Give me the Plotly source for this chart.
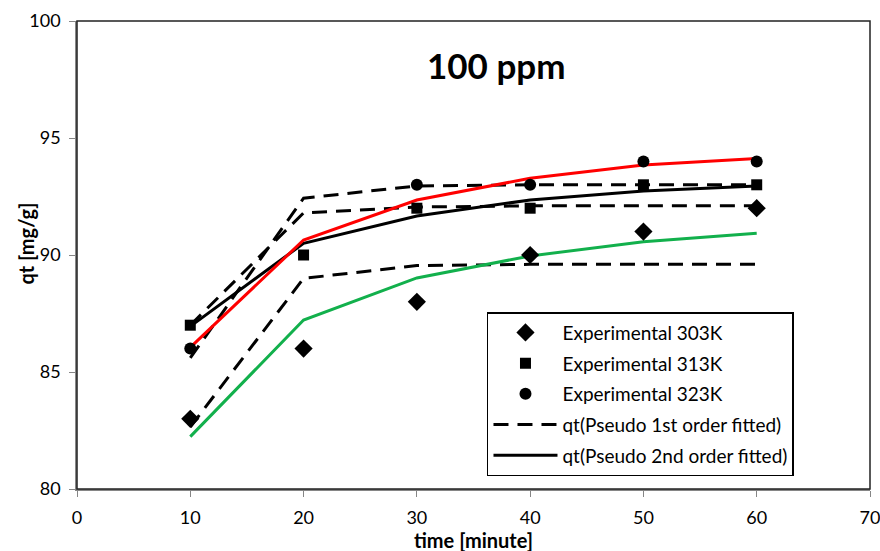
import plotly.graph_objects as go

# Contact time (minutes)
time_min = [10, 20, 30, 40, 50, 60]

# Experimental uptake qt [mg/g]
exp_303 = [83, 86, 88, 90, 91, 92]
exp_313 = [87, 90, 92, 92, 93, 93]
exp_323 = [86, None, 93, 93, 94, 94]

# Pseudo first-order fitted curves
pfo_303 = [82.65, 89.0, 89.55, 89.6, 89.6, 89.6]
pfo_313 = [87.0, 91.8, 92.05, 92.1, 92.1, 92.1]
pfo_323 = [85.6, 92.43, 92.95, 93.0, 93.0, 93.0]

# Pseudo second-order fitted curves
pso_303 = [82.24, 87.22, 89.02, 89.96, 90.57, 90.93]
pso_313 = [86.95, 90.5, 91.67, 92.35, 92.73, 92.95]
pso_323 = [86.05, 90.64, 92.35, 93.28, 93.85, 94.12]

FONT = "Lato, 'Open Sans', sans-serif"
DASH = "15px,9px"
AXIS_GREY = "#868686"

fig = go.Figure()

# fitted pseudo 1st order (dashed black)
for i, (ys, show) in enumerate([(pfo_303, False), (pfo_313, True), (pfo_323, False)]):
    fig.add_trace(go.Scatter(
        x=time_min, y=ys, mode="lines",
        line=dict(color="black", width=3, dash=DASH),
        name="qt(Pseudo 1st order fitted)", showlegend=show,
        legendgroup="pfo" if show else f"pfo{i}", legendrank=4))

# fitted pseudo 2nd order (solid)
for i, (ys, col, show) in enumerate([(pso_303, "#12b04c", False), (pso_313, "black", True),
                                      (pso_323, "#ff0000", False)]):
    fig.add_trace(go.Scatter(
        x=time_min, y=ys, mode="lines",
        line=dict(color=col, width=3),
        name="qt(Pseudo 2nd order fitted)", showlegend=show,
        legendgroup="pso" if show else f"pso{i}", legendrank=5))

# experimental points
fig.add_trace(go.Scatter(x=time_min, y=exp_303, mode="markers", name="Experimental 303K",
                         marker=dict(symbol="diamond", size=14, color="black"),
                         legendgroup="e303", legendrank=1))
fig.add_trace(go.Scatter(x=time_min, y=exp_313, mode="markers", name="Experimental 313K",
                         marker=dict(symbol="square", size=11, color="black"),
                         legendgroup="e313", legendrank=2))
fig.add_trace(go.Scatter(x=time_min, y=exp_323, mode="markers", name="Experimental 323K",
                         marker=dict(symbol="circle", size=12, color="black"),
                         legendgroup="e323", legendrank=3))

fig.add_annotation(text="<b>100 ppm</b>", x=0.529, y=0.906, xref="paper", yref="paper",
                   xanchor="center", yanchor="middle", showarrow=False,
                   font=dict(family=FONT, size=35, color="black"))

# axis titles
fig.add_annotation(text="<b>time [minute]</b>", x=0.5, y=-0.11, xref="paper", yref="paper",
                   xanchor="center", yanchor="middle", showarrow=False,
                   font=dict(family=FONT, size=20, color="black"))
fig.add_annotation(text="<b>qt [mg/g]</b>", x=-0.064, y=0.525, xref="paper", yref="paper",
                   xanchor="center", yanchor="middle", showarrow=False, textangle=-90,
                   font=dict(family=FONT, size=20, color="black"))

# plot-area frame
fig.add_shape(type="rect", xref="paper", yref="paper", x0=0, y0=0, x1=1, y1=1,
              line=dict(color="#222222", width=1.5), layer="above")

fig.update_layout(
    width=880, height=551,
    margin=dict(l=77, r=10, t=21, b=62, autoexpand=False),
    paper_bgcolor="white", plot_bgcolor="white",
    font=dict(family=FONT, size=18, color="black"),
    xaxis=dict(range=[0, 70], dtick=10, showgrid=False, zeroline=False,
               showline=True, linecolor=AXIS_GREY, linewidth=1.5,
               ticks="outside", ticklen=6, tickcolor=AXIS_GREY, automargin=False,
               ticklabelstandoff=6, ticklabeloverflow="allow"),
    yaxis=dict(range=[80, 100], dtick=5, showgrid=False, zeroline=False,
               showline=True, linecolor=AXIS_GREY, linewidth=1.5,
               ticks="outside", ticklen=6, tickcolor=AXIS_GREY, automargin=False,
               ticklabelstandoff=5, ticklabeloverflow="allow"),
    legend=dict(x=0.517, y=0.378, xanchor="left", yanchor="top",
                bgcolor="white", bordercolor="black", borderwidth=1.5,
                font=dict(size=19), itemwidth=64, tracegroupgap=3,
                traceorder="grouped"),
)

fig.write_html("out.html")
